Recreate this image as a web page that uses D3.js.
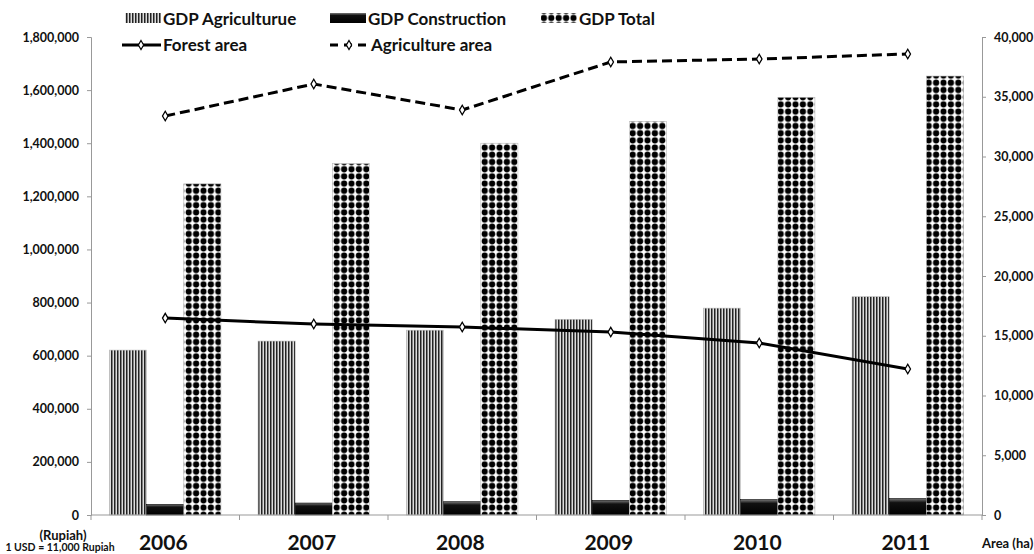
<!DOCTYPE html>
<html>
<head>
<meta charset="utf-8">
<script src="https://cdn.jsdelivr.net/npm/d3@7"></script>
<style>
  body { margin: 0; background: #fff; }
  text { font-family: Lato, "Open Sans", sans-serif; font-weight: bold; fill: #111; }
</style>
</head>
<body>
<svg id="chart" width="1034" height="554"></svg>
<script>
var years = ['2006', '2007', '2008', '2009', '2010', '2011'];
var gdpAgriculture = [621000, 655000, 696000, 737000, 779000, 822000];
var gdpConstruction = [40000, 45000, 50000, 55000, 58000, 62000];
var gdpTotal = [1247000, 1323000, 1400000, 1482000, 1573000, 1653000];
var forestArea = [16480, 15980, 15730, 15310, 14390, 12220];
var agricultureArea = [33390, 36070, 33890, 37910, 38160, 38580];
var leftTicks = [0, 200000, 400000, 600000, 800000, 1000000, 1200000, 1400000, 1600000, 1800000];
var rightTicks = [0, 5000, 10000, 15000, 20000, 25000, 30000, 35000, 40000];

var svg = d3.select('#chart');
var x0 = 91, x1 = 982, yTop = 37, yBot = 515;

var defs = svg.append('defs');

// vertical stripes
var pStripe = defs.append('pattern').attr('id', 'stripes')
	.attr('patternUnits', 'userSpaceOnUse').attr('width', 3).attr('height', 3);
pStripe.append('rect').attr('width', 3).attr('height', 3).attr('fill', '#ddd');
pStripe.append('rect').attr('width', 1.5).attr('height', 3).attr('fill', '#222');

// dots
var pDots = defs.append('pattern').attr('id', 'dots')
	.attr('patternUnits', 'userSpaceOnUse').attr('width', 7.4).attr('height', 7.2);
pDots.append('rect').attr('width', 7.4).attr('height', 7.2).attr('fill', '#fff');
pDots.append('circle').attr('cx', 3.7).attr('cy', 3.6).attr('r', 3.1).attr('fill', '#000');

// construction gradient
var grad = defs.append('linearGradient').attr('id', 'constr')
	.attr('x1', 0).attr('y1', 0).attr('x2', 0).attr('y2', 1);
grad.append('stop').attr('offset', '0%').attr('stop-color', '#777');
grad.append('stop').attr('offset', '25%').attr('stop-color', '#111');
grad.append('stop').attr('offset', '100%').attr('stop-color', '#000');

var x = d3.scaleBand().domain(years).range([x0, x1]).paddingInner(0.25).paddingOuter(0.125);
var xs = d3.scaleBand().domain(['a', 'c', 't']).range([0, x.bandwidth()]);
var yL = d3.scaleLinear().domain([0, 1800000]).range([yBot, yTop]);
var yR = d3.scaleLinear().domain([0, 40000]).range([yBot, yTop]);
var fmt = d3.format(',');

// axes
var axL = svg.append('g').attr('transform', 'translate(' + x0 + ',0)')
	.call(d3.axisLeft(yL).tickValues(leftTicks).tickFormat(fmt).tickSize(4).tickPadding(8));
var axR = svg.append('g').attr('transform', 'translate(' + x1 + ',0)')
	.call(d3.axisRight(yR).tickValues(rightTicks).tickFormat(fmt).tickSize(4).tickPadding(8));
[axL, axR].forEach(function(a) {
	a.select('.domain').attr('stroke', '#999');
	a.selectAll('.tick line').attr('stroke', '#999');
	a.selectAll('.tick text').style('font-size', '12.5px').attr('fill', '#111');
});

// bars
var series = [
	{ key: 'a', vals: gdpAgriculture, fill: 'url(#stripes)' },
	{ key: 'c', vals: gdpConstruction, fill: 'url(#constr)' },
	{ key: 't', vals: gdpTotal, fill: 'url(#dots)' }
];
series.forEach(function(s) {
	svg.append('g').selectAll('rect').data(years).enter().append('rect')
		.attr('x', function(d) { return x(d) + xs(s.key); })
		.attr('width', xs.bandwidth())
		.attr('y', function(d, i) { return yL(s.vals[i]); })
		.attr('height', function(d, i) { return yBot - yL(s.vals[i]); })
		.attr('fill', s.fill)
		.attr('stroke', s.key === 'c' ? '#000' : '#bbb')
		.attr('stroke-width', 0.6);
});

// bottom axis line and boundary ticks
svg.append('line').attr('x1', x0).attr('x2', x1).attr('y1', yBot).attr('y2', yBot)
	.attr('stroke', '#999');
var bounds = years.map(function(d) { return x(d) - x.step() * x.paddingInner() / 2; });
bounds.push(x1);
svg.append('g').selectAll('line').data(bounds).enter().append('line')
	.attr('x1', function(d) { return d; }).attr('x2', function(d) { return d; })
	.attr('y1', yBot).attr('y2', yBot + 5).attr('stroke', '#999');

svg.append('g').selectAll('text').data(years).enter().append('text')
	.attr('x', function(d) { return x(d) + x.bandwidth() / 2 - 2; })
	.attr('y', 550).attr('text-anchor', 'middle').style('font-size', '21px')
	.text(function(d) { return d; });

// lines
var cx = function(d) { return x(d) + x.bandwidth() / 2; };
function drawLine(vals, dash) {
	var line = d3.line().x(function(d) { return cx(d); })
		.y(function(d, i) { return yR(vals[i]); });
	svg.append('path').datum(years).attr('d', line).attr('fill', 'none')
		.attr('stroke', '#000').attr('stroke-width', 3)
		.attr('stroke-dasharray', dash);
	svg.append('g').selectAll('path').data(years).enter().append('path')
		.attr('d', d3.symbol().type(d3.symbolDiamond).size(26))
		.attr('transform', function(d, i) { return 'translate(' + cx(d) + ',' + yR(vals[i]) + ')'; })
		.attr('fill', '#fff').attr('stroke', '#000').attr('stroke-width', 1.3);
}
drawLine(forestArea, null);
drawLine(agricultureArea, '10,5');

// legend
var lg = svg.append('g');
var legendBars = [
	{ x: 125, fill: 'url(#stripes)', label: 'GDP Agriculturue' },
	{ x: 330, fill: 'url(#constr)', label: 'GDP Construction' },
	{ x: 541, fill: 'url(#dots)', label: 'GDP Total' }
];
legendBars.forEach(function(l) {
	lg.append('rect').attr('x', l.x).attr('y', 13).attr('width', 36).attr('height', 10).attr('fill', l.fill);
	lg.append('text').attr('x', l.x + 38).attr('y', 25).style('font-size', '17px').text(l.label);
});
var legendLines = [
	{ x: 122, dash: null, label: 'Forest area' },
	{ x: 330, dash: '8,6', label: 'Agriculture area' }
];
legendLines.forEach(function(l) {
	lg.append('line').attr('x1', l.x).attr('x2', l.x + 39).attr('y1', 45).attr('y2', 45)
		.attr('stroke', '#000').attr('stroke-width', 3).attr('stroke-dasharray', l.dash);
	lg.append('path').attr('d', d3.symbol().type(d3.symbolDiamond).size(24))
		.attr('transform', 'translate(' + (l.x + 19) + ',45)')
		.attr('fill', '#fff').attr('stroke', '#000').attr('stroke-width', 1.2);
	lg.append('text').attr('x', l.x + 41).attr('y', 51).style('font-size', '17px').text(l.label);
});

// axis titles
svg.append('text').attr('x', 63).attr('y', 540).attr('text-anchor', 'middle')
	.style('font-size', '13px').text('(Rupiah)');
svg.append('text').attr('x', 60).attr('y', 551).attr('text-anchor', 'middle')
	.style('font-size', '10.5px').text('1 USD = 11,000 Rupiah');
svg.append('text').attr('x', 982).attr('y', 548)
	.style('font-size', '13px').text('Area (ha)');
</script>
</body>
</html>
